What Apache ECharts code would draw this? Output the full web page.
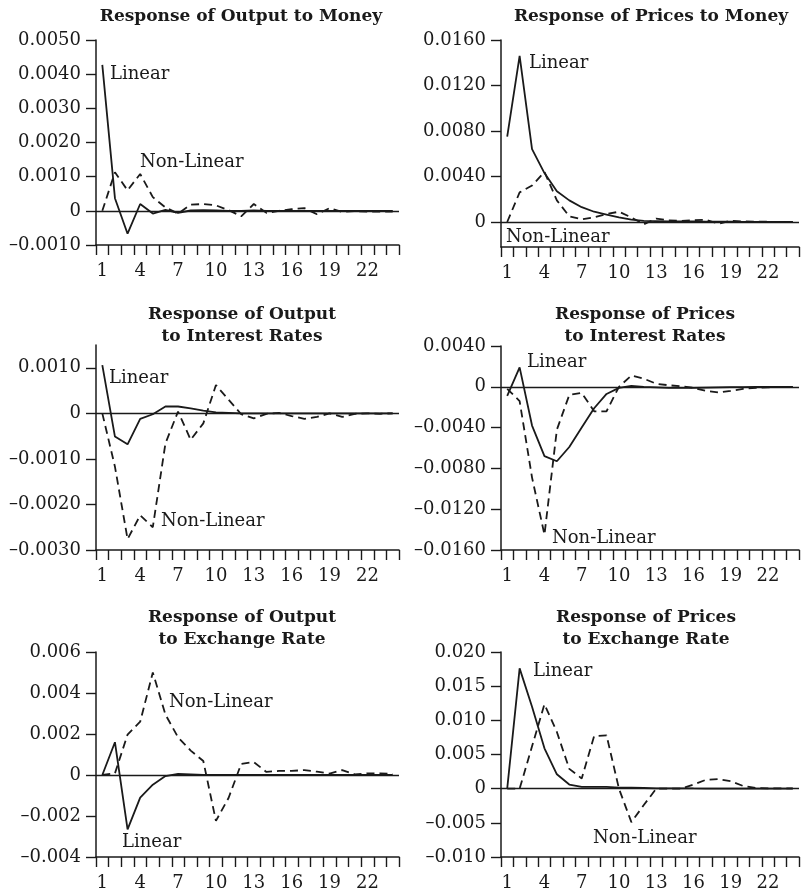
<!DOCTYPE html>
<html>
<head>
<meta charset="utf-8">
<script src="https://cdn.jsdelivr.net/npm/echarts@6/dist/echarts.min.js"></script>
<style>
html,body{margin:0;padding:0;background:#fff;}
#c{width:804px;height:892px;}
</style>
</head>
<body>
<div id="c"></div>
<script>
// Periods
const periods = Array.from({length: 24}, (_, i) => String(i + 1));

// Titles
const titles = [
  'Response of Output to Money',
  'Response of Prices to Money',
  'Response of Output\nto Interest Rates',
  'Response of Prices\nto Interest Rates',
  'Response of Output\nto Exchange Rate',
  'Response of Prices\nto Exchange Rate'
];

// Y tick values per panel
const yTicks1 = [-0.001, 0, 0.001, 0.002, 0.003, 0.004, 0.005];
const yTicks2 = [0, 0.004, 0.008, 0.012, 0.016];
const yTicks3 = [-0.003, -0.002, -0.001, 0, 0.001];
const yTicks4 = [-0.016, -0.012, -0.008, -0.004, 0, 0.004];
const yTicks5 = [-0.004, -0.002, 0, 0.002, 0.004, 0.006];
const yTicks6 = [-0.010, -0.005, 0, 0.005, 0.010, 0.015, 0.020];
const yRange = [[-0.001, 0.005], [-0.0022, 0.016], [-0.003, 0.0015], [-0.016, 0.004], [-0.004, 0.006], [-0.010, 0.020]];
const yDecimals = [4, 4, 4, 4, 3, 3];

// Output to Money
const lin1 = [0.00427, 0.00037, -0.00067, 0.0002, -0.00008, 0.00003, -0.00006, 0.00001, 0.00002, 0.00001, 0, 0, 0.00001, 0, 0, 0, 0, 0, 0, 0, 0, 0, 0, 0];
const nl1 = [0, 0.00113, 0.0006, 0.00108, 0.0004, 0.0001, -0.00008, 0.00018, 0.0002, 0.00016, 0.00002, -0.00016, 0.0002, -0.00006, 0, 0.00005, 0.00008, -0.0001, 0.00008, -0.00003, -0.00001, -0.00002, -0.00002, -0.00002];
// Prices to Money
const lin2 = [0.0075, 0.0146, 0.0064, 0.0043, 0.0027, 0.0019, 0.0013, 0.0009, 0.00065, 0.0004, 0.0002, 0.0001, 0.00008, 0.00006, 0.00005, 0.00004, 0.00003, 0.00002, 0.00002, 0.00001, 0.00001, 0.00001, 0, 0];
const nl2 = [0, 0.0026, 0.0032, 0.0044, 0.0019, 0.0005, 0.00023, 0.0004, 0.0007, 0.0009, 0.0004, -0.0002, 0.0003, 0.00015, 0.0001, 0.00015, 0.0002, -0.00015, 0.0001, 0.00005, 0.00003, 0.00002, 0.00001, 0];
// Output to Interest Rates
const lin3 = [0.00106, -0.00051, -0.00068, -0.00012, -0.00002, 0.00015, 0.00015, 0.00011, 0.00006, 0.00002, 0.00001, 0, 0, 0, 0, 0, 0, 0, 0, 0, 0, 0, 0, 0];
const nl3 = [0, -0.00117, -0.00276, -0.00224, -0.0025, -0.00066, 0.00004, -0.00058, -0.00022, 0.00062, 0.0003, -0.00002, -0.00011, -0.00001, 0.00001, -0.00006, -0.00012, -0.00008, 0, -0.00008, -0.00001, 0, -0.00001, 0];
// Prices to Interest Rates
const lin4 = [-0.0009, 0.0019, -0.0038, -0.0068, -0.0073, -0.0059, -0.0040, -0.0021, -0.0007, -0.0001, 0.0001, 0, -0.00005, -0.0001, -0.0001, -0.0001, -0.00008, -0.00006, -0.00004, -0.00003, -0.00002, -0.00001, 0, 0];
const nl4 = [-0.0002, -0.0014, -0.0089, -0.0145, -0.0042, -0.0008, -0.0006, -0.0024, -0.0024, 0, 0.0011, 0.0008, 0.0003, 0.00015, 0.00005, -0.0001, -0.0004, -0.00055, -0.0004, -0.0002, -0.0001, -0.00005, 0, 0];
// Output to Exchange Rate
const lin5 = [0, 0.0016, -0.00265, -0.0011, -0.00047, -0.00005, 0.00005, 0.00003, 0.00001, 0, 0, 0, 0, 0, 0, 0, 0, 0, 0, 0, 0, 0, 0, 0];
const nl5 = [0, 0.00008, 0.00197, 0.0026, 0.005, 0.00295, 0.00184, 0.00119, 0.00068, -0.00224, -0.00112, 0.00054, 0.00063, 0.00015, 0.0002, 0.0002, 0.00024, 0.00016, 0.00007, 0.00024, 0.00003, 0.00008, 0.00008, 0.00005];
// Prices to Exchange Rate
const lin6 = [0, 0.0176, 0.012, 0.0059, 0.0021, 0.0006, 0.00025, 0.00025, 0.00025, 0.00015, 0.00015, 0.0001, 0.00005, 0.00005, 0.00005, 0.00003, 0.00002, 0.00002, 0.00001, 0.00001, 0, 0, 0, 0];
const nl6 = [0, 0, 0.0062, 0.01235, 0.0083, 0.0029, 0.0015, 0.0077, 0.0078, 0, -0.0049, -0.0024, 0, 0, 0, 0.0006, 0.0013, 0.0014, 0.0011, 0.0004, 0.0001, 0.00005, 0.00005, 0.00005];

const linData = [lin1, lin2, lin3, lin4, lin5, lin6];
const nlData = [nl1, nl2, nl3, nl4, nl5, nl6];
const yTicks = [yTicks1, yTicks2, yTicks3, yTicks4, yTicks5, yTicks6];

// Layout (pixels)
const grids = [
  {left: 96, top: 40, width: 303, height: 205},
  {left: 501, top: 40, width: 298, height: 207},
  {left: 96, top: 345, width: 303, height: 205},
  {left: 501, top: 346, width: 298, height: 204},
  {left: 96, top: 652, width: 303, height: 205},
  {left: 501, top: 652, width: 298, height: 205}
];
const titlePos = [[241, 17], [651, 17], [242, 326], [645, 326], [242, 629], [646, 629]];
const notes = [
  [['Linear', 110, 74], ['Non-Linear', 140, 162]],
  [['Linear', 529, 63], ['Non-Linear', 506, 237]],
  [['Linear', 109, 378], ['Non-Linear', 161, 521]],
  [['Linear', 527, 362], ['Non-Linear', 552, 538]],
  [['Non-Linear', 169, 702], ['Linear', 122, 842]],
  [['Linear', 533, 671], ['Non-Linear', 593, 838]]
];

const INK = '#1a1a1a';
const FONT = 'DejaVu Serif';

function fmt(dec) {
  return function (v) {
    if (Math.abs(v) < 1e-12) return '0';
    return (v < 0 ? '\u2013' : '') + Math.abs(v).toFixed(dec);
  };
}

const option = {
  animation: false,
  backgroundColor: '#fff',
  grid: [], xAxis: [], yAxis: [], series: [], graphic: []
};

for (let i = 0; i < 6; i++) {
  option.grid.push(Object.assign({containLabel: false}, grids[i]));
  option.xAxis.push({
    type: 'category', gridIndex: i, data: periods, boundaryGap: true,
    axisLine: {onZero: false, lineStyle: {color: INK, width: 1.5}},
    axisTick: {show: true, interval: 0, alignWithLabel: false, length: 10, lineStyle: {color: INK, width: 1.4}},
    axisLabel: {interval: 2, margin: 17, color: INK, fontFamily: FONT, fontSize: 18},
    splitLine: {show: false}
  });
  option.yAxis.push({
    type: 'value', gridIndex: i, min: yRange[i][0], max: yRange[i][1],
    axisLine: {show: true, lineStyle: {color: INK, width: 1.5}},
    axisTick: {show: true, customValues: yTicks[i], length: 10, lineStyle: {color: INK, width: 1.4}},
    axisLabel: {customValues: yTicks[i], formatter: fmt(yDecimals[i]), margin: 15, color: INK, fontFamily: FONT, fontSize: 18},
    splitLine: {show: false}
  });
  option.series.push({
    type: 'line', xAxisIndex: i, yAxisIndex: i, data: linData[i], symbol: 'none',
    lineStyle: {color: INK, width: 1.8, type: 'solid'},
    markLine: {silent: true, symbol: 'none', label: {show: false},
      lineStyle: {color: INK, width: 1.4, type: 'solid'}, data: [{yAxis: 0}]}
  });
  option.series.push({
    type: 'line', xAxisIndex: i, yAxisIndex: i, data: nlData[i], symbol: 'none',
    lineStyle: {color: INK, width: 1.8, type: [8, 5]}
  });
  option.graphic.push({
    type: 'text', x: titlePos[i][0], y: titlePos[i][1], silent: true,
    style: {text: titles[i], align: 'center', verticalAlign: 'middle', lineHeight: 22,
      font: 'bold 17px "DejaVu Serif"', fill: INK}
  });
  notes[i].forEach(function (n) {
    option.graphic.push({
      type: 'text', x: n[1], y: n[2], silent: true,
      style: {text: n[0], align: 'left', verticalAlign: 'middle', font: '18px "DejaVu Serif"', fill: INK}
    });
  });
}

const chart = echarts.init(document.getElementById('c'), null, {renderer: 'canvas'});
chart.setOption(option);
</script>
</body>
</html>
